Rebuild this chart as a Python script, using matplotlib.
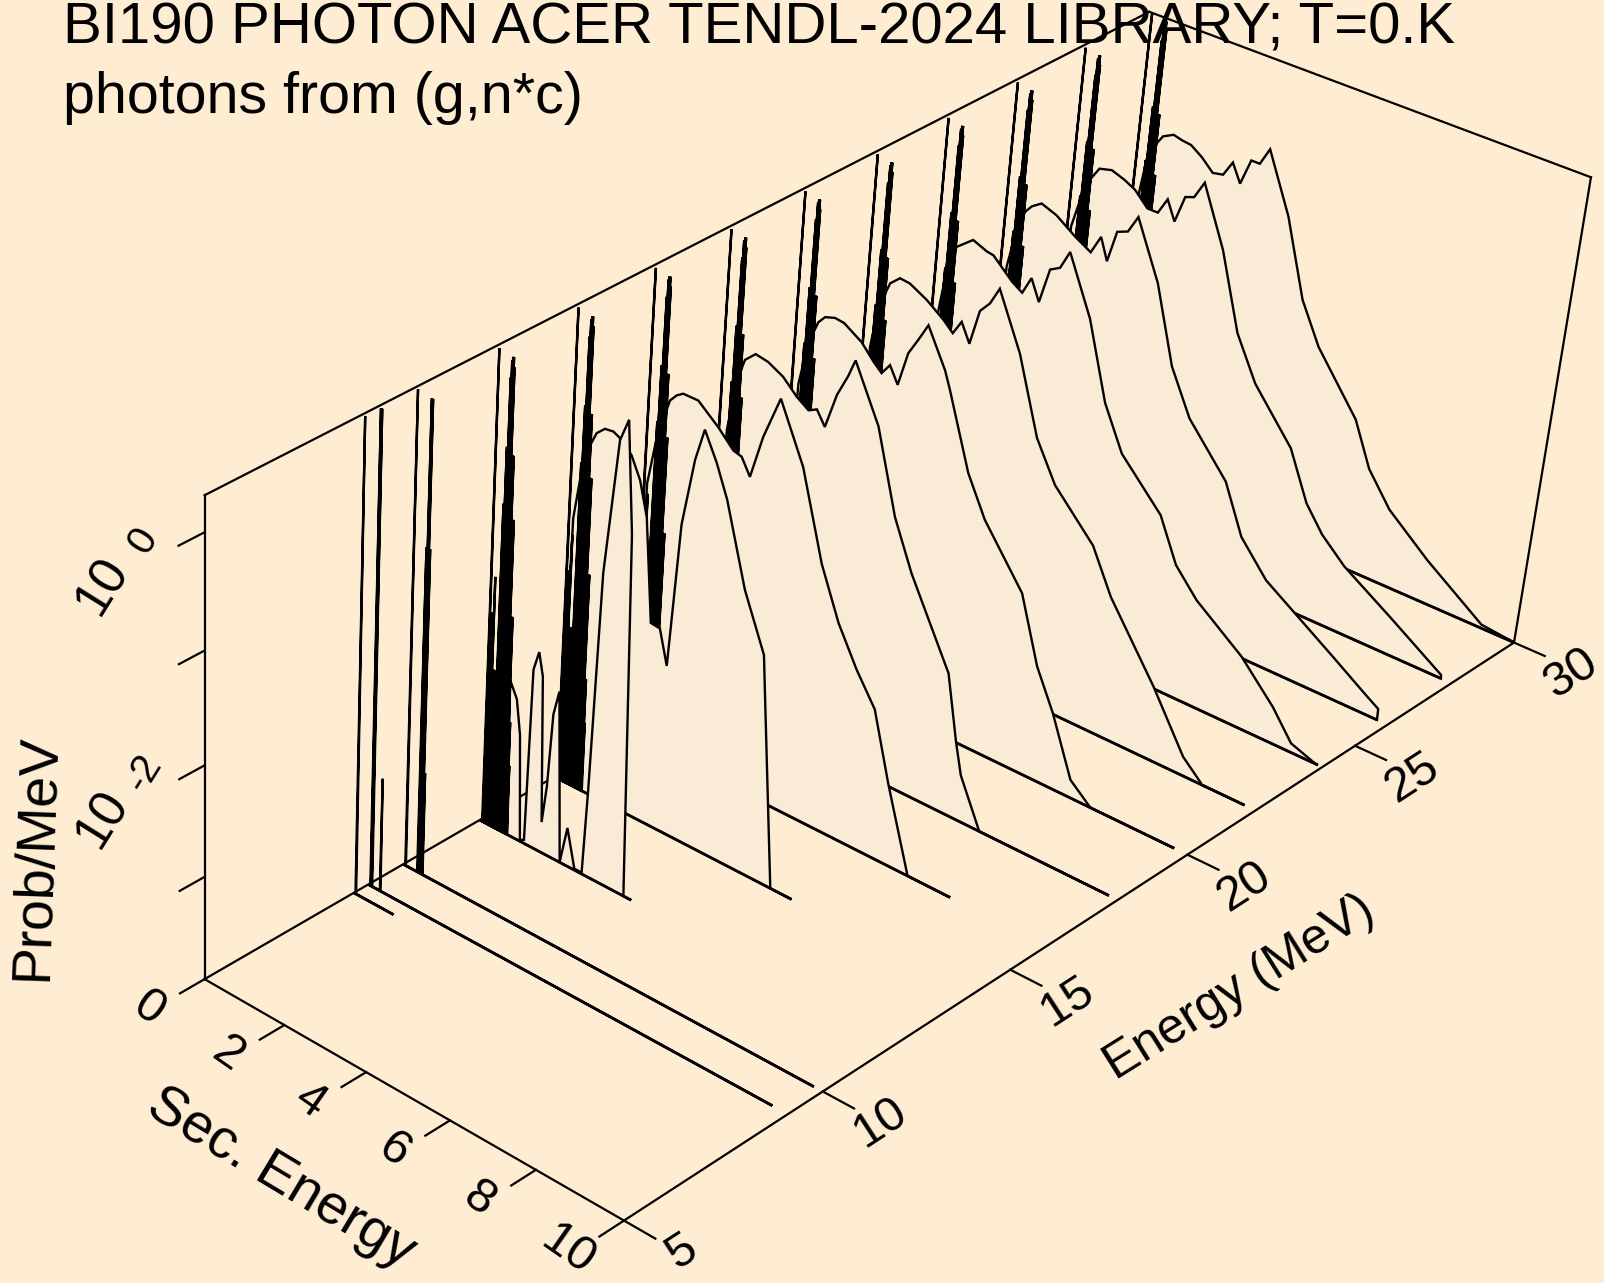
# BI190 photon spectrum from (g,n*c), drawn as a hand made 3D waterfall
import numpy as np
import matplotlib
matplotlib.use("Agg")
import matplotlib.pyplot as plt

plt.rcParams['font.family'] = ['Liberation Sans', 'DejaVu Sans']

BG = '#FFEDD3'
FILL = '#FAEBD7'

# log10 range of the vertical axis
ZMIN, ZMAX = -3.943, 0.307

# incident energies (MeV) and the end of each secondary energy grid
energies = [8.73, 9.1, 10, 12, 14, 16, 18, 20, 22, 24, 26, 28, 30]
es_end = [1.0, 9.65, 9.8, 3.75, 5.8, 7.8, 9.8, 9.7, 9.75, 9.9, 9.76, 9.76, 9.98]

# discrete gamma lines at low secondary energy (Es, log10 prob)
lines_873 = [(0.05, 0.3)]
lines_91 = [(0.06, 0.3), (0.075, 0.3), (0.09, 0.3), (0.30, -2.9)]
lines_10 = [(0.06, 0.3), (0.36, -1.0), (0.39, 0.28), (0.42, 0.28), (0.45, -1.0), (0.48, -3.0)]
lines_common = [(0.07, 0.3), (0.09, -2.6), (0.12, -2.0), (0.15, -2.4), (0.17, -1.67), (0.20, -2.5), (0.23, -2.5), (0.26, -2.5),
                (0.30, -1.0), (0.33, -0.5), (0.36, 0.1), (0.38, 0.25), (0.40, 0.28), (0.42, 0.28), (0.44, 0.2), (0.46, -0.55), (0.48, -0.55),
                (0.50, -0.55), (0.52, -1.1), (0.54, -1.1), (0.56, -1.1), (0.58, -1.95), (0.60, -1.95), (0.62, -1.95),
                (0.64, -2.9), (0.66, -2.9), (0.68, -3.3)]

# continuum, Es and log10 prob
es_12 = [0.62, 0.80, 0.91, 1.01, 1.11, 1.17, 1.29, 1.40, 1.52, 1.61, 1.69, 1.81, 2.00, 2.15, 2.36, 2.54, 2.60, 2.70, 2.93, 3.11, 3.31, 3.56]
lp_12 = [-2.52, -2.66, -2.97, -3.93, -3.91, -2.32, -2.14, -2.34, -3.66, -3.31, -2.63, -2.40, -3.94, -3.59, -3.93, -3.93, -3.15, -1.18, -0.00, 0.20, -0.74, -3.92]
es_14 = [0.17, 0.29, 0.49, 0.63, 0.82, 1.02, 1.18, 1.47, 1.70, 1.90, 2.13, 2.35, 2.56, 2.71, 2.93, 3.11, 3.42, 3.71, 4.24, 4.77, 4.87, 5.29]
lp_14 = [-1.52, -1.16, -0.82, -0.69, -0.62, -0.61, -0.64, -0.74, -0.92, -1.21, -2.11, -2.12, -2.42, -1.13, -0.53, -0.24, -0.47, -0.74, -1.43, -1.91, -2.30, -3.92]
es_16 = [0.14, 0.31, 0.57, 0.72, 0.87, 1.23, 1.73, 2.11, 2.31, 2.53, 2.77, 3.11, 3.72, 4.30, 4.78, 5.27, 5.75, 6.19, 6.80]
lp_16 = [-1.58, -1.14, -0.77, -0.70, -0.66, -0.66, -0.81, -0.95, -0.97, -1.11, -0.72, -0.33, -0.82, -1.57, -2.01, -2.34, -2.61, -3.20, -3.93]
es_18 = [0.26, 0.42, 0.58, 0.82, 1.12, 1.49, 1.84, 2.13, 2.32, 2.53, 2.75, 2.97, 3.11, 3.74, 4.28, 4.76, 5.79, 6.10, 6.28, 6.80]
lp_18 = [-1.44, -0.97, -0.76, -0.67, -0.69, -0.76, -0.88, -0.95, -0.91, -1.03, -0.71, -0.51, -0.35, -0.82, -1.53, -1.95, -2.67, -3.24, -3.52, -3.93]
es_20 = [0.23, 0.39, 0.59, 0.74, 0.97, 1.19, 1.63, 1.93, 2.14, 2.32, 2.53, 2.71, 2.91, 3.11, 3.57, 3.72, 4.30, 4.77, 5.76, 6.26, 6.72, 7.27, 7.77]
lp_20 = [-1.38, -0.99, -0.77, -0.70, -0.67, -0.68, -0.78, -0.90, -0.97, -0.87, -1.01, -0.70, -0.55, -0.39, -0.71, -0.86, -1.50, -1.84, -2.33, -2.91, -3.26, -3.78, -3.94]
es_22 = [0.25, 0.37, 0.60, 0.82, 1.06, 1.48, 1.90, 2.14, 2.32, 2.54, 2.71, 2.92, 3.11, 3.70, 4.27, 4.78, 5.77, 6.29, 7.46, 8.29, 8.75]
lp_22 = [-1.39, -1.01, -0.76, -0.68, -0.69, -0.77, -0.88, -0.96, -0.83, -0.99, -0.67, -0.57, -0.41, -0.89, -1.55, -1.89, -2.27, -2.65, -3.27, -3.77, -3.93]
es_24 = [0.23, 0.34, 0.52, 0.89, 1.23, 1.39, 1.87, 2.13, 2.31, 2.53, 2.71, 2.93, 3.12, 3.72, 4.26, 4.76, 5.78, 6.25, 6.8, 7.94, 8.76, 9.26, 9.85]
lp_24 = [-1.4, -1.02, -0.78, -0.66, -0.71, -0.72, -0.88, -0.94, -0.78, -0.96, -0.64, -0.59, -0.42, -0.92, -1.59, -1.97, -2.36, -2.74, -2.97, -3.29, -3.61, -3.86, -3.95]
es_26 = [0.22, 0.37, 0.53, 0.67, 0.89, 1.26, 1.74, 2.13, 2.33, 2.52, 2.68, 2.92, 3.12, 3.72, 4.25, 4.78, 5.76, 6.26, 6.93, 7.66, 8.63, 9.42, 9.75, 9.76]
lp_26 = [-1.34, -0.98, -0.79, -0.72, -0.66, -0.71, -0.83, -0.91, -0.74, -0.93, -0.64, -0.6, -0.44, -0.94, -1.61, -2, -2.42, -2.85, -3.14, -3.32, -3.56, -3.76, -3.84, -3.94]
es_28 = [0.16, 0.31, 0.5, 0.68, 0.97, 1.28, 1.55, 1.88, 2.13, 2.32, 2.53, 2.71, 2.91, 3.11, 3.7, 4.25, 4.79, 5.77, 6.28, 6.72, 7.31, 8.45, 9.75, 9.76]
lp_28 = [-1.31, -1.04, -0.82, -0.7, -0.67, -0.71, -0.76, -0.88, -0.88, -0.73, -0.9, -0.65, -0.62, -0.46, -0.98, -1.65, -2.03, -2.47, -2.9, -3.12, -3.32, -3.59, -3.91, -3.94]
es_30 = [0.22, 0.33, 0.5, 0.64, 0.88, 1.1, 1.31, 1.59, 1.88, 2.12, 2.31, 2.53, 2.72, 2.92, 3.11, 3.71, 4.27, 4.77, 5.82, 6.27, 6.85, 7.85, 9.24, 9.98]
lp_30 = [-1.34, -0.96, -0.82, -0.73, -0.68, -0.7, -0.71, -0.78, -0.88, -0.86, -0.72, -0.88, -0.64, -0.64, -0.48, -1, -1.68, -2.04, -2.55, -2.94, -3.23, -3.54, -3.91, -3.94]

continuum = {12: (es_12, lp_12), 14: (es_14, lp_14), 16: (es_16, lp_16), 18: (es_18, lp_18), 20: (es_20, lp_20),
             22: (es_22, lp_22), 24: (es_24, lp_24), 26: (es_26, lp_26), 28: (es_28, lp_28), 30: (es_30, lp_30)}
gamma_lines = {8.73: lines_873, 9.1: lines_91, 10: lines_10}

es_ticks = [0, 2, 4, 6, 8, 10]
e_ticks = [5, 10, 15, 20, 25, 30]
z_ticks = [-3, -2, -1, 0]

# camera: corners of the box
a = [373.4, 1026.5, -12.0]
b = [164.4, -442.5, -502.0]
g = [-0.06, 0.141, -0.06]


def project(es, e, lp):
    u = np.asarray(es, float) / 10
    v = (np.asarray(e, float) - 5) / 25
    w = (np.asarray(lp, float) - ZMIN) / (ZMAX - ZMIN)
    d = 1 + g[0]*u + g[1]*v + g[2]*w
    return (200 + a[0]*u + a[1]*v + a[2]*w)/d, (957 + b[0]*u + b[1]*v + b[2]*w)/d


fig = plt.figure(figsize=(16.04, 12.83), dpi=100, facecolor=BG)
ax = fig.add_axes([0, 0, 1, 1])
ax.set_xlim(0, 1568)
ax.set_ylim(1254, 0)
ax.axis('off')


def seg(p, q, lw=1.6, z=1):
    x, y = project(*zip(p, q))
    ax.plot(x, y, color='k', lw=lw, zorder=z, solid_capstyle='projecting')


# box
seg((0, 5, ZMIN), (10, 5, ZMIN))
seg((10, 5, ZMIN), (10, 30, ZMIN))
seg((10, 30, ZMIN), (10, 30, ZMAX))
seg((10, 30, ZMAX), (0, 30, ZMAX))
seg((0, 30, ZMAX), (0, 5, ZMAX))
seg((0, 5, ZMAX), (0, 5, ZMIN))
seg((0, 5, ZMIN), (0, 30, ZMIN))

# ticks
for t in es_ticks:
    seg((t, 5, ZMIN), (t, 4.4, ZMIN))
for t in e_ticks:
    seg((10, t, ZMIN), (10.7, t, ZMIN))
for t in z_ticks:
    seg((0, 5, t), (0, 4.4, t))

# spectra, back to front so that the nearer ones hide the others
z = 2
for e, end in reversed(list(zip(energies, es_end))):
    lines = gamma_lines.get(e, lines_common)
    es = [0.0]
    lp = [ZMIN]
    for s, p in lines:
        es += [s - 0.008, s, s + 0.008]
        lp += [ZMIN, p, ZMIN]
    if e in continuum:
        ce, cl = continuum[e]
        if ce[0] < 0.6:
            es += [0.12]
            lp += [ZMIN]
        es += list(ce) + [ce[-1]]
        lp += list(cl) + [ZMIN]
    es = es + [end]
    lp = lp + [ZMIN]
    x, y = project(es, e, np.clip(lp, ZMIN, None))
    ax.fill(x, y, fc=FILL, ec='k', lw=1.7, zorder=z, joinstyle='miter')
    bx, by = project([0, end], e, ZMIN)
    ax.plot(bx, by, color='k', lw=2.0, zorder=z, solid_capstyle='butt')
    z += 1

# text
ax.text(62, 43, 'BI190 PHOTON ACER TENDL-2024 LIBRARY; T=0.K', fontsize=41.9, va='baseline', zorder=50)
ax.text(62, 110, 'photons from (g,n*c)', fontsize=41.3, va='baseline', zorder=50)

for t in es_ticks:
    x, y = project(t, 5, ZMIN)
    ax.text(x - 55, y + 29, str(t), fontsize=35, rotation=-35, rotation_mode='anchor', ha='center', va='center')
for t in e_ticks:
    x, y = project(10, t, ZMIN)
    ax.text(x + 56, y + 31, str(t), fontsize=35, rotation=33, rotation_mode='anchor', ha='center', va='center')
for t in [-2, 0]:
    x, y = project(0, 5, t)
    ax.text(x - 100, y + 53, '10', fontsize=37, rotation=58, rotation_mode='anchor', ha='center', va='center')
    ax.text(x - 60, y + 8, str(t), fontsize=29, rotation=58, rotation_mode='anchor', ha='center', va='center')

ax.text(36, 838, 'Prob/MeV', fontsize=40, rotation=88, rotation_mode='anchor', ha='center', va='center')
ax.text(275, 1152, 'Sec. Energy', fontsize=40, rotation=-31, rotation_mode='anchor', ha='center', va='center')
ax.text(1212, 965, 'Energy (MeV)', fontsize=36, rotation=32, rotation_mode='anchor', ha='center', va='center')

fig.savefig('out.png', dpi=100, facecolor=BG)
